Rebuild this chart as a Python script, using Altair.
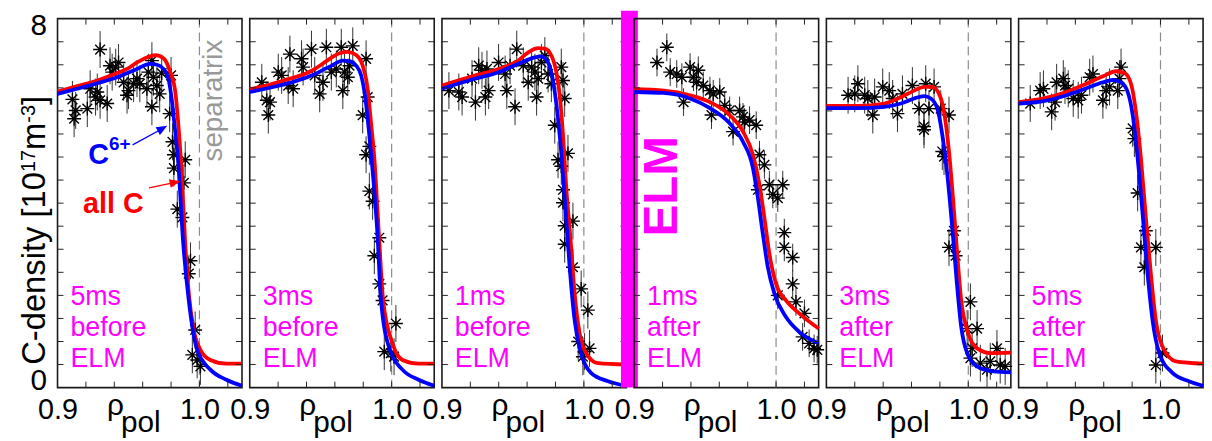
import altair as alt
import pandas as pd

FONT = "Liberation Sans"

# ---------------- data ----------------
PANEL_LABELS = ["5ms\nbefore\nELM", "3ms\nbefore\nELM", "1ms\nbefore\nELM",
                "1ms\nafter\nELM", "3ms\nafter\nELM", "5ms\nafter\nELM"]
X_LABEL_VALUES = [0.9, 1.0]
Y_LABEL_VALUES = [0, 8]
X_MINOR_TICKS = [0.92, 0.94, 0.96, 0.98, 1.00, 1.02]
Y_MINOR_TICKS = [0.5, 1.0, 1.5, 2.0, 2.5, 3.0, 3.5, 4.0, 4.5, 5.0, 5.5, 6.0, 6.5, 7.0, 7.5]
SEPARATRIX = [1.0]
STAR_ERR = [0.4, 0.4, 0.4, 0.3, 0.4, 0.4]

P1_STAR_X = [0.930, 0.9105, 0.9128, 0.9117, 0.921, 0.9268, 0.928, 0.930, 0.935, 0.937, 0.943, 0.941,
             0.9385, 0.9466, 0.950, 0.949, 0.956, 0.958, 0.963, 0.9665, 0.9676, 0.970, 0.9665, 0.972,
             0.9734, 0.980, 0.964, 0.9536, 0.923, 0.979, 0.981, 0.982, 0.982, 0.990, 0.989, 0.9844,
             0.988, 0.9937, 0.9925, 0.997, 0.995, 0.9984, 1.0007]
P1_STAR_Y = [7.33, 6.25, 6.01, 5.83, 6.05, 6.30, 6.41, 6.23, 6.16, 6.98, 7.05, 6.95,
             6.84, 6.62, 6.44, 6.34, 6.70, 6.59, 6.48, 7.09, 6.73, 6.55, 6.09, 6.37,
             6.82, 6.77, 6.84, 6.59, 6.48, 5.94, 5.33, 5.05, 4.76, 4.94, 4.44, 3.87,
             3.69, 2.75, 2.47, 1.25, 0.71, 0.60, 0.46]
P1_RED_X = [0.900, 0.914, 0.928, 0.942, 0.949, 0.956, 0.963, 0.969, 0.975, 0.979, 0.983, 0.985,
            0.987, 0.990, 0.9925, 0.996, 1.0007, 1.0077, 1.019, 1.030]
P1_RED_Y = [6.42, 6.54, 6.66, 6.82, 6.91, 7.05, 7.16, 7.21, 7.13, 6.88, 6.41, 5.76,
            4.90, 3.12, 2.04, 1.25, 0.82, 0.60, 0.52, 0.52]
P1_BLUE_X = [0.900, 0.928, 0.942, 0.956, 0.9653, 0.970, 0.9746, 0.9781, 0.9804, 0.9827, 0.985,
             0.9886, 0.9925, 0.9984, 1.0077, 1.019, 1.030]
P1_BLUE_Y = [6.37, 6.60, 6.73, 6.91, 7.02, 7.00, 6.91, 6.70, 6.27, 5.62, 4.90,
             3.12, 1.89, 0.82, 0.39, 0.17, 0.04]

P2_STAR_X = [0.9085, 0.912, 0.9143, 0.9131, 0.9201, 0.9225, 0.9283, 0.9271, 0.9306, 0.9365, 0.9376,
             0.9435, 0.9458, 0.9493, 0.954, 0.9516, 0.9575, 0.961, 0.9645, 0.9656, 0.9668, 0.9703,
             0.9726, 0.9691, 0.982, 0.9831, 0.9796, 0.9843, 0.982, 0.9843, 0.9866, 0.9913, 0.9878,
             0.9913, 0.9936, 1.003, 0.9948, 0.9994, 1.0017]
P2_STAR_Y = [6.62, 6.23, 6.19, 5.91, 6.84, 6.77, 7.23, 6.55, 6.48, 7.13, 6.95,
             7.34, 6.77, 6.37, 7.38, 6.62, 6.84, 6.91, 7.38, 6.44, 6.84, 6.98,
             7.41, 6.73, 7.13, 6.30, 5.91, 5.23, 5.05, 4.26, 4.04, 3.25, 2.86,
             2.25, 1.89, 1.39, 0.78, 0.75, 0.67]
P2_RED_X = [0.900, 0.9143, 0.9283, 0.9423, 0.9493, 0.9563, 0.9633, 0.9691, 0.975, 0.9796, 0.9831,
            0.9854, 0.9878, 0.991, 0.994, 1.0006, 1.0076, 1.019, 1.030]
P2_RED_Y = [6.47, 6.57, 6.70, 6.85, 6.98, 7.13, 7.25, 7.28, 7.21, 6.98, 6.48,
            5.76, 4.97, 3.33, 1.89, 0.96, 0.60, 0.52, 0.52]
P2_BLUE_X = [0.900, 0.9283, 0.9423, 0.9563, 0.9656, 0.970, 0.975, 0.9785, 0.9815, 0.9838, 0.986,
             0.990, 0.9925, 0.9987, 1.0076, 1.019, 1.030]
P2_BLUE_Y = [6.41, 6.61, 6.75, 6.96, 7.09, 7.08, 6.98, 6.77, 6.27, 5.62, 4.90,
             3.33, 1.89, 0.82, 0.39, 0.17, 0.04]

P3_STAR_X = [0.9049, 0.9119, 0.9142, 0.9212, 0.9236, 0.9259, 0.9282, 0.9306, 0.9317, 0.9329, 0.9399,
             0.9445, 0.9457, 0.948, 0.9527, 0.9515, 0.9573, 0.9608, 0.9632, 0.9655, 0.9667, 0.9678,
             0.9701, 0.9725, 0.9748, 0.9771, 0.9841, 0.9853, 0.9865, 0.9795, 0.9818, 0.9841, 0.9888,
             0.9853, 0.9853, 0.9865, 0.9923, 0.9865, 0.9923, 0.9981, 1.0028, 0.996, 1.0005, 1.004,
             0.9993]
P3_STAR_Y = [6.44, 6.41, 6.30, 6.70, 6.19, 6.98, 6.88, 6.30, 6.91, 6.44, 7.05,
             6.80, 6.44, 6.98, 7.34, 6.09, 6.98, 6.62, 6.95, 6.84, 6.30, 6.70,
             7.05, 7.20, 6.80, 6.59, 6.95, 6.66, 6.27, 5.69, 4.94, 4.80, 5.08,
             4.29, 4.01, 3.51, 3.61, 3.11, 2.61, 2.14, 1.68, 1.0, 0.78, 0.85,
             0.67]
P3_RED_X = [0.900, 0.9212, 0.9399, 0.9538, 0.9608, 0.9678, 0.9725, 0.9771, 0.9806, 0.983, 0.9853,
            0.9876, 0.9907, 0.9935, 0.997, 1.0016, 1.0098, 1.030]
P3_RED_Y = [6.55, 6.75, 6.91, 7.09, 7.27, 7.36, 7.35, 7.20, 6.84, 6.34, 5.48,
            4.33, 3.18, 2.04, 1.18, 0.75, 0.53, 0.50]
P3_BLUE_X = [0.900, 0.9212, 0.9399, 0.9538, 0.9655, 0.970, 0.9748, 0.978, 0.981, 0.984, 0.987,
             0.990, 0.9935, 0.998, 1.005, 1.017, 1.030]
P3_BLUE_Y = [6.48, 6.68, 6.84, 7.02, 7.16, 7.18, 7.05, 6.70, 6.05, 5.12, 3.90,
             2.61, 1.46, 0.75, 0.32, 0.14, 0.04]

P4_STAR_X = [0.9161, 0.923, 0.9254, 0.930, 0.9336, 0.9348, 0.9394, 0.9418, 0.944, 0.9452, 0.9487,
             0.9534, 0.9557, 0.9545, 0.9603, 0.9638, 0.9673, 0.9697, 0.9743, 0.9767, 0.9778, 0.9813,
             0.986, 0.9883, 0.9918, 0.9872, 0.9953, 0.9977, 1.0012, 1.0047, 1.0058, 1.0058, 1.0117,
             1.0012, 1.0117, 1.014, 1.020, 1.0187, 1.0233, 1.0268, 1.029]
P4_STAR_Y = [7.05, 7.38, 6.84, 6.80, 6.73, 6.19, 6.95, 6.73, 6.62, 6.88, 6.55,
             6.44, 6.37, 5.91, 6.41, 6.12, 6.01, 5.55, 6.01, 5.87, 5.76, 5.80,
             5.69, 5.05, 4.83, 4.29, 4.40, 4.19, 4.11, 4.40, 3.36, 3.04, 2.82,
             2.0, 2.25, 1.86, 1.61, 1.10, 0.96, 0.85, 0.82]
P4_RED_X = [0.900, 0.9208, 0.9394, 0.9534, 0.9673, 0.9767, 0.9837, 0.9883, 0.9918, 0.9953, 1.000,
            1.007, 1.0163, 1.030]
P4_RED_Y = [6.47, 6.44, 6.34, 6.19, 5.91, 5.55, 5.05, 4.40, 3.68, 2.90, 2.25,
            1.89, 1.61, 1.28]
P4_BLUE_X = [0.900, 0.9208, 0.9394, 0.9534, 0.9673, 0.9767, 0.9837, 0.9872, 0.9907, 0.9942, 0.9988,
             1.007, 1.0163, 1.030]
P4_BLUE_Y = [6.41, 6.39, 6.27, 6.06, 5.73, 5.33, 4.76, 4.11, 3.33, 2.61, 2.04,
             1.53, 1.21, 0.96]

P5_STAR_X = [0.9153, 0.9222, 0.920, 0.927, 0.9292, 0.934, 0.9327, 0.9397, 0.9443, 0.9467, 0.9501,
             0.9536, 0.9606, 0.9653, 0.970, 0.9723, 0.9688, 0.9688, 0.9759, 0.9806, 0.9864, 0.9817,
             0.9829, 0.9899, 0.9864, 0.9911, 1.0015, 0.9992, 1.0062, 1.0027, 1.0015, 1.0085, 1.0202,
             1.0155, 1.0225, 1.0132, 1.026]
P5_STAR_Y = [6.34, 6.59, 6.37, 6.34, 6.27, 6.30, 5.91, 6.52, 6.44, 6.27, 5.94,
             6.37, 6.55, 6.05, 6.59, 6.05, 5.66, 5.59, 6.52, 6.05, 5.91, 5.12,
             5.01, 3.40, 3.04, 2.86, 1.86, 1.28, 1.28, 0.85, 0.64, 0.53, 0.85,
             0.57, 0.49, 0.39, 0.46]
P5_RED_X = [0.900, 0.9222, 0.9409, 0.9526, 0.9619, 0.9689, 0.9747, 0.9794, 0.9829, 0.9864, 0.9894,
            0.9922, 0.995, 0.9992, 1.0062, 1.0155, 1.030]
P5_RED_Y = [6.11, 6.11, 6.16, 6.30, 6.44, 6.52, 6.52, 6.37, 5.98, 5.12, 4.04,
            2.90, 1.89, 1.25, 0.85, 0.75, 0.76]
P5_BLUE_X = [0.900, 0.9222, 0.9409, 0.9526, 0.9619, 0.9689, 0.9736, 0.9782, 0.9817, 0.9852, 0.9887,
             0.9918, 0.995, 0.9992, 1.0062, 1.0178, 1.030]
P5_BLUE_Y = [6.06, 6.06, 6.09, 6.16, 6.27, 6.32, 6.27, 6.05, 5.48, 4.62, 3.47,
             2.32, 1.32, 0.75, 0.46, 0.35, 0.33]

P6_STAR_X = [0.9082, 0.9152, 0.9175, 0.9233, 0.9257, 0.9268, 0.9315, 0.9327, 0.935, 0.9385, 0.942,
             0.9443, 0.9501, 0.9524, 0.9594, 0.9617, 0.9641, 0.9699, 0.9722, 0.9711, 0.9804, 0.9816,
             0.9839, 0.9897, 0.9862, 0.9967, 0.9886, 1.0014, 0.9967]
P6_STAR_Y = [6.16, 6.44, 6.48, 5.98, 6.19, 6.62, 6.70, 6.55, 6.48, 6.27, 6.23,
             6.34, 6.73, 6.80, 6.23, 6.44, 6.52, 6.44, 6.95, 6.70, 5.62, 5.40,
             4.22, 3.40, 3.04, 3.04, 2.61, 0.75, 0.49]
P6_RED_X = [0.900, 0.9175, 0.9338, 0.9478, 0.9594, 0.9687, 0.9746, 0.9792, 0.9827, 0.9862, 0.9897,
            0.9932, 0.9967, 1.0014, 1.0107, 1.030]
P6_RED_Y = [6.19, 6.27, 6.41, 6.59, 6.75, 6.86, 6.82, 6.59, 5.98, 4.97, 3.68,
            2.47, 1.46, 0.89, 0.57, 0.52]
P6_BLUE_X = [0.900, 0.9175, 0.9338, 0.9478, 0.9594, 0.9664, 0.9722, 0.9769, 0.9804, 0.9839, 0.9874,
             0.9909, 0.9944, 0.9991, 1.0084, 1.020, 1.030]
P6_BLUE_Y = [6.16, 6.21, 6.34, 6.49, 6.62, 6.67, 6.62, 6.41, 5.91, 4.97, 3.76,
             2.47, 1.46, 0.75, 0.32, 0.14, 0.04]

PANELS = [
    (P1_STAR_X, P1_STAR_Y, P1_RED_X, P1_RED_Y, P1_BLUE_X, P1_BLUE_Y),
    (P2_STAR_X, P2_STAR_Y, P2_RED_X, P2_RED_Y, P2_BLUE_X, P2_BLUE_Y),
    (P3_STAR_X, P3_STAR_Y, P3_RED_X, P3_RED_Y, P3_BLUE_X, P3_BLUE_Y),
    (P4_STAR_X, P4_STAR_Y, P4_RED_X, P4_RED_Y, P4_BLUE_X, P4_BLUE_Y),
    (P5_STAR_X, P5_STAR_Y, P5_RED_X, P5_RED_Y, P5_BLUE_X, P5_BLUE_Y),
    (P6_STAR_X, P6_STAR_Y, P6_RED_X, P6_RED_Y, P6_BLUE_X, P6_BLUE_Y),
]

# ---------------- style ----------------
W, H = 186, 372
MAGENTA = "#FF00FF"
RED = "#FF0000"
BLUE = "#0000FF"
STAR = "M-1,0L1,0M0,-1L0,1M-0.7,-0.7L0.7,0.7M-0.7,0.7L0.7,-0.7"
ARROWHEAD = "M0,-1L0.8,1L-0.8,1Z"
ONE = pd.DataFrame({"k": [0]})

# Arial/Liberation Sans advance widths (em units) for composing the y title
CW = {"C": .722, "-": .333, "d": .556, "e": .556, "n": .556, "s": .5, "i": .222, "t": .278,
      "y": .5, " ": .278, "[": .278, "1": .556, "0": .556, "7": .556, "m": .833, "3": .556, "]": .278}


def txt(s, x, y, size, color="black", bold=False, angle=0, align="left", baseline="alphabetic", **kw):
    props = dict(font=FONT, fontSize=size, color=color, align=align, baseline=baseline,
                 fontWeight="bold" if bold else "normal")
    if angle:
        props["angle"] = angle
    props.update(kw)
    return alt.Chart(ONE).mark_text(**props).encode(
        x=alt.value(x), y=alt.value(y), text=alt.value(s))


def panel(i):
    sx, sy, rx, ry, bx, by = PANELS[i]
    err = STAR_ERR[i]
    xsc = alt.Scale(domain=[0.9, 1.03], nice=False, zero=False)
    ysc = alt.Scale(domain=[0, 8], nice=False, zero=False)
    xax = alt.Axis(values=X_LABEL_VALUES, format=".1f", ticks=False, domain=False, grid=False,
                   labelFontSize=29, labelPadding=8, labelFlush=False, labelOverlap=False,
                   title=None, labelColor="black", labelFont=FONT)
    if i == 0:
        yax = alt.Axis(values=Y_LABEL_VALUES, format="d", ticks=False, domain=False, grid=False,
                       labelFontSize=30, labelPadding=11, labelFlush=True, labelFlushOffset=8,
                       labelOverlap=False, title=None, labelColor="black", labelFont=FONT)
    else:
        yax = None

    def X(f):
        return alt.X(f, type="quantitative", scale=xsc, axis=xax)

    def Y(f):
        return alt.Y(f, type="quantitative", scale=ysc, axis=yax)

    stars = pd.DataFrame({"x": sx, "y": sy})
    stars["lo"] = stars["y"] - err
    stars["hi"] = stars["y"] + err

    layers = []
    layers.append(alt.Chart(pd.DataFrame({"x": SEPARATRIX})).mark_rule(
        color="#8c8c8c", strokeDash=[9, 5], strokeWidth=1.2).encode(x=X("x")))
    layers.append(alt.Chart(stars).mark_rule(color="#333333", strokeWidth=1).encode(
        x=X("x"), y=Y("lo"), y2="hi"))
    layers.append(alt.Chart(stars).mark_point(shape=STAR, size=196, filled=False, color="black",
                                              strokeWidth=1.4, opacity=1).encode(x=X("x"), y=Y("y")))
    layers.append(alt.Chart(pd.DataFrame({"x": rx, "y": ry})).mark_line(
        color=RED, strokeWidth=3.8, interpolate="monotone").encode(x=X("x"), y=Y("y")))
    layers.append(alt.Chart(pd.DataFrame({"x": bx, "y": by})).mark_line(
        color=BLUE, strokeWidth=3.8, interpolate="monotone").encode(x=X("x"), y=Y("y")))

    xt = pd.DataFrame({"v": X_MINOR_TICKS})
    yt = pd.DataFrame({"v": Y_MINOR_TICKS})
    tk = dict(color="#222222", strokeWidth=1)
    layers.append(alt.Chart(xt).mark_rule(**tk).encode(x=X("v"), y=alt.value(0), y2=alt.value(6)))
    layers.append(alt.Chart(xt).mark_rule(**tk).encode(x=X("v"), y=alt.value(H), y2=alt.value(H - 6)))
    layers.append(alt.Chart(yt).mark_rule(**tk).encode(y=Y("v"), x=alt.value(0), x2=alt.value(6)))
    layers.append(alt.Chart(yt).mark_rule(**tk).encode(y=Y("v"), x=alt.value(W), x2=alt.value(W - 6)))

    # panel time label
    layers.append(txt(PANEL_LABELS[i], 13, 289, 27, color=MAGENTA, lineBreak="\n", lineHeight=31))
    # x axis title rho_pol
    layers.append(txt("ρ", 50, 400, 30))
    layers.append(txt("pol", 64, 417, 30))

    if i == 0:
        # invisible anchor to fix the left/top offset of the figure
        layers.append(alt.Chart(ONE).mark_rule(color="white", strokeWidth=1).encode(
            x=alt.value(-56), x2=alt.value(-52), y=alt.value(-15.5), y2=alt.value(-15.5)))
        # y title composed of rotated pieces
        parts = [("C-density [10", 33, -12.7), ("17", 20, -23), ("m", 33, -12.7),
                 ("-3", 20, -23), ("]", 33, -12.7)]
        ypos = 349.0
        for s, size, bx_ in parts:
            layers.append(txt(s, bx_, ypos, size, angle=270))
            ypos -= sum(CW[c] for c in s) * size
        # separatrix (reads bottom to top, starting near the top of the panel)
        layers.append(txt("separatrix", 165.5, 144, 28, color="#999999", angle=270, align="left"))
        # C6+ and all C
        layers.append(txt("C", 31, 147, 29, color=BLUE, bold=True))
        layers.append(txt("6+", 52, 132, 19, color=BLUE, bold=True))
        layers.append(txt("all C", 25.7, 195.7, 29, color=RED, bold=True))
        layers.append(alt.Chart(ONE).mark_rule(color=BLUE, strokeWidth=1.3).encode(
            x=alt.value(75.7), y=alt.value(127.3), x2=alt.value(106), y2=alt.value(110.7)))
        layers.append(alt.Chart(ONE).mark_point(shape=ARROWHEAD, size=121, filled=True, color=BLUE,
                                                opacity=1, angle=61, strokeWidth=0).encode(
            x=alt.value(105.9), y=alt.value(110.7)))
        layers.append(alt.Chart(ONE).mark_rule(color=RED, strokeWidth=1.3).encode(
            x=alt.value(92.3), y=alt.value(170.7), x2=alt.value(118.6), y2=alt.value(165.1)))
        layers.append(alt.Chart(ONE).mark_point(shape=ARROWHEAD, size=121, filled=True, color=RED,
                                                opacity=1, angle=78, strokeWidth=0).encode(
            x=alt.value(118.6), y=alt.value(165.1)))
    if i == 2:
        layers.append(alt.Chart(ONE).mark_rect(color=MAGENTA, opacity=1).encode(
            x=alt.value(180.5), x2=alt.value(197.5), y=alt.value(-8), y2=alt.value(H)))
    if i == 3:
        layers.append(txt("ELM", 43, 169, 48, color=MAGENTA, bold=True, angle=270, align="center"))

    return alt.layer(*layers).properties(width=W, height=H)


chart = alt.hconcat(*[panel(i) for i in range(6)], spacing=7.8, bounds="flush").properties(
    padding=0
).configure(font=FONT).configure_view(stroke="#1a1a1a", strokeWidth=1.6)

chart.save("out.html", embed_options={"renderer": "svg", "actions": False})
